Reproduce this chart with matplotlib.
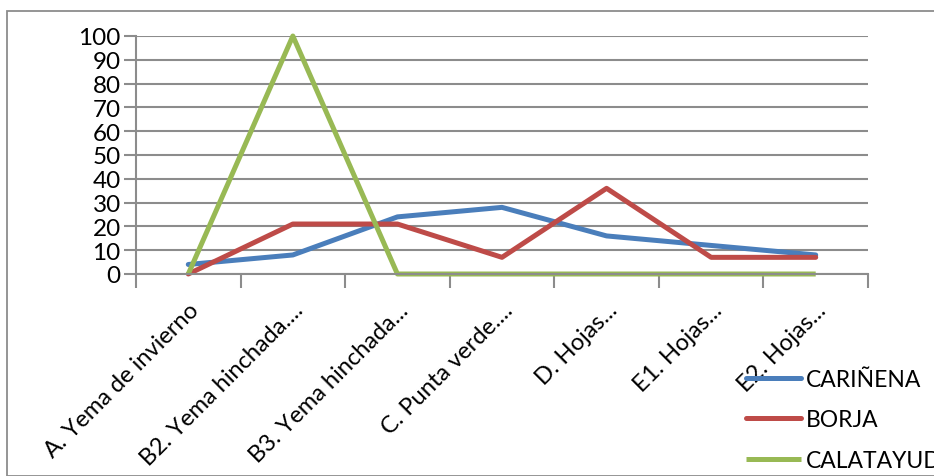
import matplotlib
matplotlib.use('Agg')
import matplotlib.pyplot as plt
import numpy as np

categorias = ['A. Yema de invierno', 'B2. Yema hinchada....', 'B3. Yema hinchada...',
              'C. Punta verde....', 'D. Hojas...', 'E1. Hojas...', 'E2. Hojas...']
carinena = [4, 8, 24, 28, 16, 12, 8]
borja = [0, 21, 21, 7, 36, 7, 7]
calatayud = [0, 100, 0, 0, 0, 0, 0]

plt.rcParams['font.family'] = ['Lato', 'DejaVu Sans']

W, H = 934, 477
fig = plt.figure(figsize=(W / 100, H / 100), dpi=100)
ax = fig.add_axes([136 / W, 1 - 275 / H, (868 - 136) / W, (275 - 37) / H])

# marco del grafico
marco = plt.Rectangle((7 / W, 0), 2, 1 - 12 / H, transform=fig.transFigure,
                      fill=False, edgecolor='#8c8c8c', lw=1.3)
fig.patches.append(marco)

x = np.arange(len(categorias))
ax.plot(x, carinena, color='#4a7ebb', lw=3.6, label='CARIÑENA', clip_on=False, solid_capstyle='round')
ax.plot(x, borja, color='#be4b48', lw=3.6, label='BORJA', clip_on=False, solid_capstyle='round')
ax.plot(x, calatayud, color='#98b954', lw=3.6, label='CALATAYUD', clip_on=False, solid_capstyle='butt')

ax.set_xlim(-0.5, len(categorias) - 0.5)
ax.set_ylim(0, 100)
ax.set_yticks(range(0, 101, 10))
ax.yaxis.grid(True, color='#8c8c8c', lw=1.5)
ax.set_axisbelow(True)

ax.set_xticks(x)
ax.set_xticklabels(categorias, rotation=45, ha='right', va='top', rotation_mode='anchor')
ax.set_xticks(np.arange(-0.5, len(categorias), 1), minor=True)
ax.tick_params(axis='x', which='major', length=0, pad=18, labelsize=17)
ax.tick_params(axis='x', which='minor', length=10, width=1.5, color='#8c8c8c')
ax.tick_params(axis='y', length=9, width=1.5, color='#8c8c8c', labelsize=17.5, pad=2)

for s in ['top', 'right']:
    ax.spines[s].set_visible(False)
for s in ['left', 'bottom']:
    ax.spines[s].set_color('#8c8c8c')
    ax.spines[s].set_linewidth(1.5)

leg = fig.legend(loc='upper left', bbox_to_anchor=(746 / W, 1 - 370 / H), frameon=False,
                 fontsize=16.5, handlelength=2.4, handletextpad=0.2, labelspacing=0.85,
                 borderpad=0, borderaxespad=0)

fig.savefig('out.png', dpi=100)
